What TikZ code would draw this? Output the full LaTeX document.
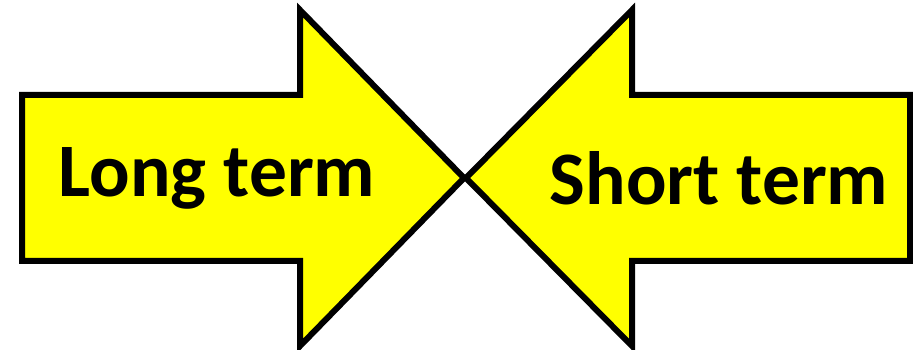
\documentclass[tikz,border=0pt]{standalone}
\usepackage{fontspec}
\setmainfont{Carlito}
\usepackage{tikz}
\definecolor{arrowYellow}{RGB}{255, 255, 0}

\begin{document}
\begin{tikzpicture}[x=0.02cm, y=-0.02cm, line join=miter,
  bigarrow/.style={draw=black, fill=arrowYellow, line width=6*0.02cm},
  lbl/.style={font=\fontsize{43}{50}\selectfont\bfseries, text=black}]

  \useasboundingbox (0,0) rectangle (913,350);

  % left arrow, pointing right
  \draw[bigarrow] (22,95) -- (300,95) -- (300,10) -- (464,178)
    -- (300,346) -- (300,261) -- (22,261) -- cycle;
  % right arrow, pointing left
  \draw[bigarrow] (910,95) -- (632,95) -- (632,10) -- (466,178)
    -- (632,346) -- (632,261) -- (910,261) -- cycle;

  \node[lbl] (long)  at (217,178) {Long term};
  \node[lbl] (short) at (719,178) {Short term};

\end{tikzpicture}
\end{document}
